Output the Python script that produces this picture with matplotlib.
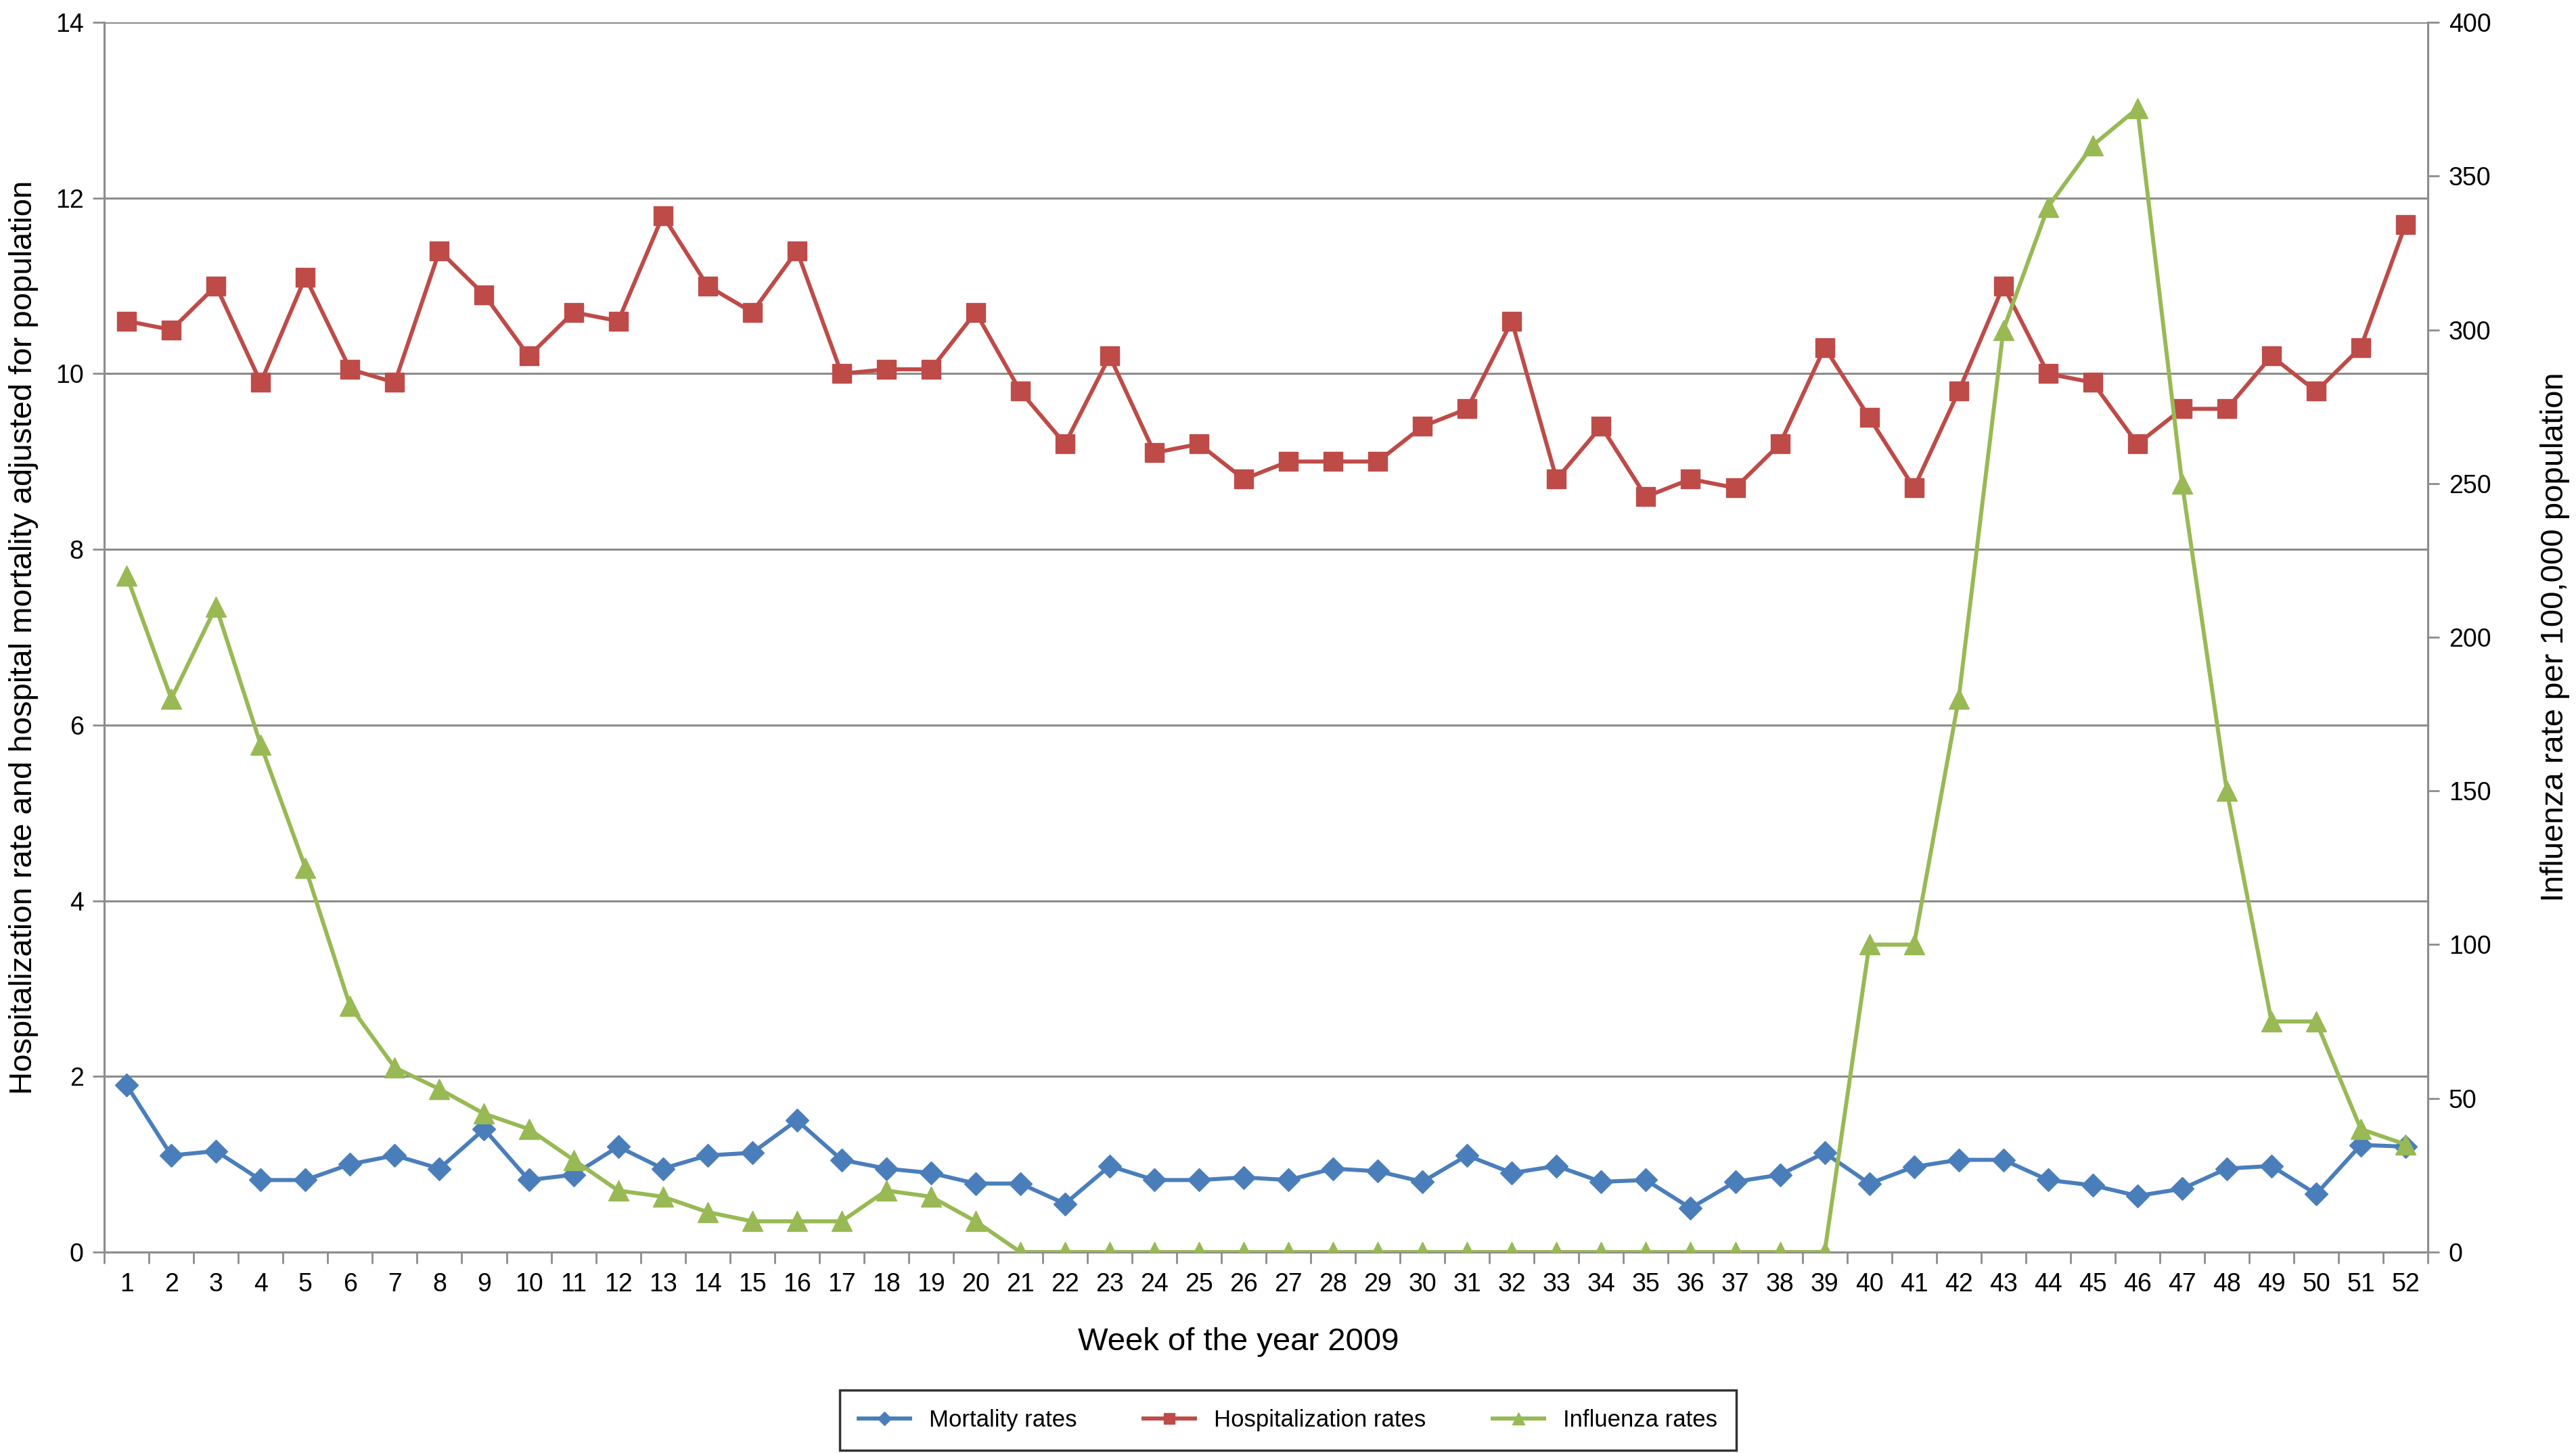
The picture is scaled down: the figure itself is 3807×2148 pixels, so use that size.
import numpy as np
import matplotlib
matplotlib.use("Agg")
import matplotlib.pyplot as plt
from matplotlib.ticker import MultipleLocator, FixedLocator

plt.rcParams['font.family'] = ['Liberation Sans', 'DejaVu Sans']

weeks = list(range(1, 53))

mortality = [1.9, 1.1, 1.15, 0.82, 0.82, 1.0, 1.1, 0.95, 1.4, 0.82,
             0.88, 1.2, 0.95, 1.1, 1.13, 1.5, 1.05, 0.95, 0.9, 0.78,
             0.78, 0.55, 0.98, 0.82, 0.82, 0.85, 0.82, 0.95, 0.92, 0.8,
             1.1, 0.9, 0.98, 0.8, 0.82, 0.5, 0.8, 0.88, 1.13, 0.78,
             0.97, 1.05, 1.05, 0.82, 0.76, 0.64, 0.72, 0.95, 0.98, 0.66,
             1.22, 1.2]

hospitalization = [10.6, 10.5, 11.0, 9.9, 11.1, 10.05, 9.9, 11.4, 10.9, 10.2,
                   10.7, 10.6, 11.8, 11.0, 10.7, 11.4, 10.0, 10.05, 10.05, 10.7,
                   9.8, 9.2, 10.2, 9.1, 9.2, 8.8, 9.0, 9.0, 9.0, 9.4,
                   9.6, 10.6, 8.8, 9.4, 8.6, 8.8, 8.7, 9.2, 10.3, 9.5,
                   8.7, 9.8, 11.0, 10.0, 9.9, 9.2, 9.6, 9.6, 10.2, 9.8,
                   10.3, 11.7]

influenza = [220, 180, 210, 165, 125, 80, 60, 53, 45, 40,
             30, 20, 18, 13, 10, 10, 10, 20, 18, 10,
             0, 0, 0, 0, 0, 0, 0, 0, 0, 0,
             0, 0, 0, 0, 0, 0, 0, 0, 0, 100,
             100, 180, 300, 340, 360, 372, 250, 150, 75, 75,
             40, 35]

blue = '#4a7ebb'
red = '#be4b48'
green = '#98b954'
axis_gray = '#8c8c8c'

fig = plt.figure(figsize=(38.07, 21.48), dpi=100)
ax = fig.add_axes([0.0405, 0.1383, 0.902, 0.8463])
ax2 = ax.twinx()

ax.set_xlim(0.5, 52.5)
ax.set_ylim(0, 14)
ax2.set_ylim(0, 400)

ax.yaxis.set_major_locator(MultipleLocator(2))
ax2.yaxis.set_major_locator(MultipleLocator(50))
ax.grid(axis='y', color=axis_gray, linewidth=2.2)
ax.set_axisbelow(True)

ax.set_xticks(weeks)
ax.set_xticklabels([str(w) for w in weeks])
ax.xaxis.set_minor_locator(FixedLocator(np.arange(0.5, 53, 1)))
ax.tick_params(axis='x', which='major', length=0, pad=22, labelsize=27)
ax.tick_params(axis='x', which='minor', length=12, width=2, color=axis_gray)
ax.tick_params(axis='y', length=12, width=2, color=axis_gray, labelsize=27, pad=10)
ax2.tick_params(axis='y', length=12, width=2, color=axis_gray, labelsize=27, pad=10)

for a in (ax, ax2):
    a.spines['top'].set_visible(False)
    for s in ('left', 'right', 'bottom'):
        a.spines[s].set_color(axis_gray)
        a.spines[s].set_linewidth(2.2)

ax.plot(weeks, mortality, color=blue, lw=4.3, marker='D', ms=17,
        mec=blue, label='Mortality rates', zorder=3)
ax.plot(weeks, hospitalization, color=red, lw=4.3, marker='s', ms=20,
        mec=red, label='Hospitalization rates', zorder=3)
ax2.plot(weeks, influenza, color=green, lw=4.3, marker='^', ms=21,
         mec=green, label='Influenza rates', zorder=3)

label_font = ['Liberation Sans Narrow', 'Liberation Sans', 'DejaVu Sans']
ax.set_ylabel('Hospitalization rate and hospital mortality adjusted for population',
              fontsize=34, family=label_font, labelpad=18)
ax2.set_ylabel('Influenza rate per 100,000 population',
               fontsize=34, family=label_font, labelpad=52)
ax.set_xlabel('Week of the year 2009', fontsize=34, family=label_font)
ax.xaxis.set_label_coords(0.488, -0.061)

handles = ax.get_lines() + ax2.get_lines()
leg = fig.legend(handles, [h.get_label() for h in handles], ncol=3,
                 loc='lower center', bbox_to_anchor=(0.326, 0.002, 0.348, 0.04),
                 mode='expand', frameon=True, fancybox=False,
                 prop={'family': label_font, 'size': 25},
                 handlelength=2.2, markerscale=0.6, borderpad=0.8,
                 borderaxespad=0, edgecolor='black')
leg.get_frame().set_linewidth(2.5)

fig.savefig('out.png', dpi=100)
